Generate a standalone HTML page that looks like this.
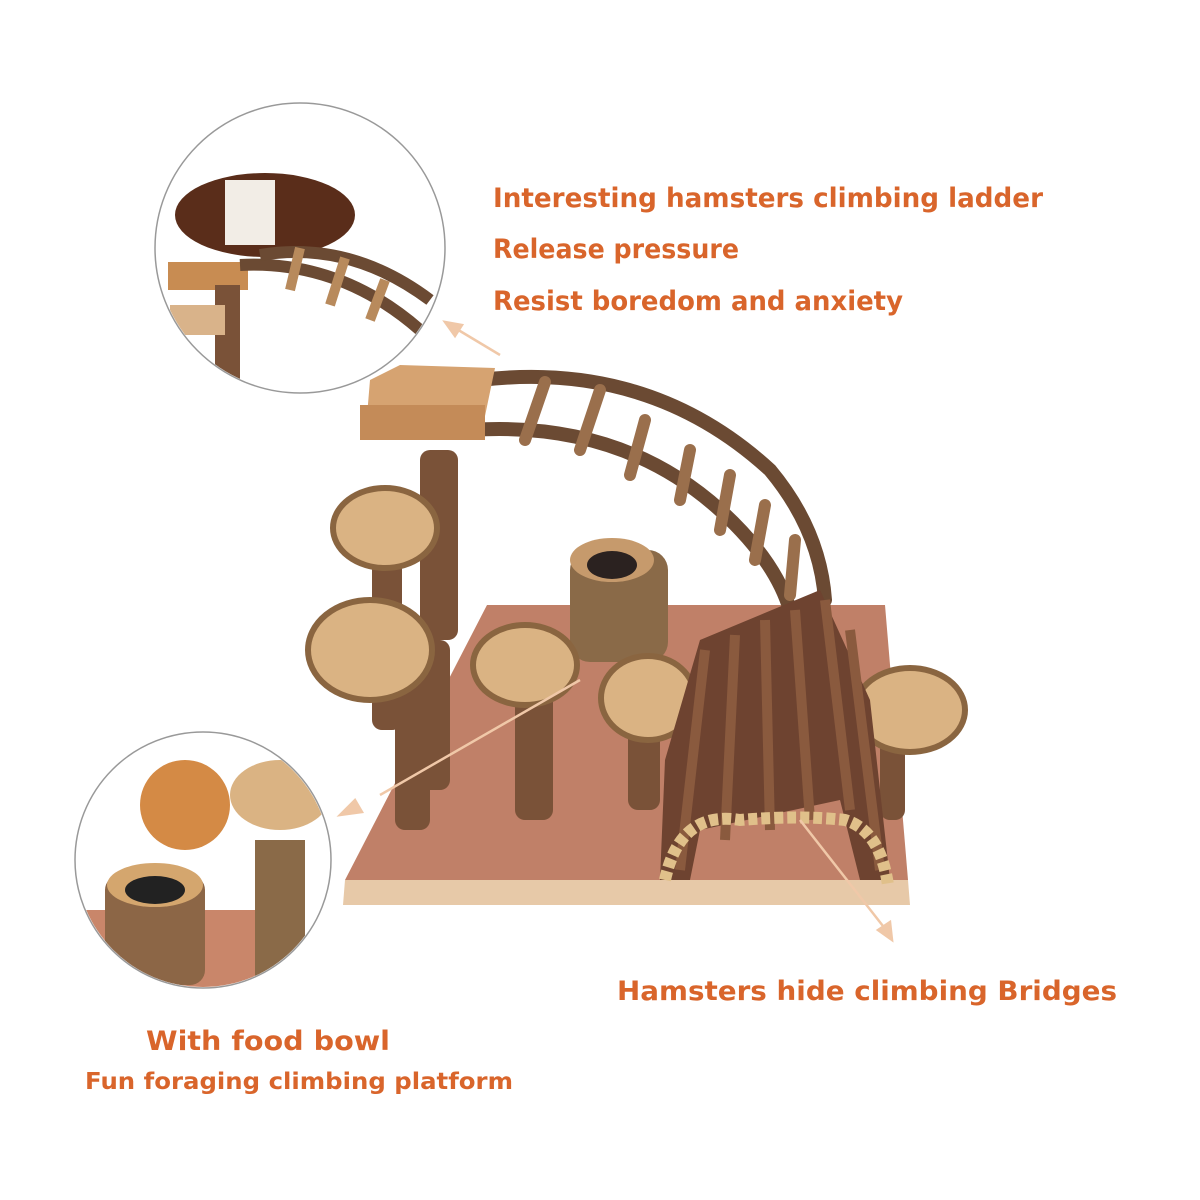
<!DOCTYPE html>
<html><head><meta charset="utf-8"><style>
html,body{margin:0;padding:0;background:#fff;}
svg{display:block}
text{font-family:"DejaVu Sans","Liberation Sans",sans-serif;font-weight:bold;fill:#d9652b}
</style></head><body>
<svg width="1200" height="1200" viewBox="0 0 1200 1200" xmlns="http://www.w3.org/2000/svg">
<rect width="1200" height="1200" fill="#fff"/>
<!-- board -->
<polygon points="487,605 885,605 908,880 345,880" fill="#c08068"/>
<polygon points="345,880 908,880 910,905 343,905" fill="#e7c9a8"/>
<!-- ladder -->
<g stroke="#6b4a33" stroke-width="14" stroke-linecap="round" fill="none">
<path d="M480,380 Q650,360 770,470 Q820,530 825,600"/>
<path d="M470,430 Q620,420 720,510 Q775,560 790,610"/>
</g>
<g stroke="#9a6f4c" stroke-width="12" stroke-linecap="round">
<line x1="545" y1="382" x2="525" y2="440"/><line x1="600" y1="390" x2="580" y2="450"/>
<line x1="645" y1="420" x2="630" y2="475"/><line x1="690" y1="450" x2="680" y2="500"/>
<line x1="730" y1="475" x2="720" y2="530"/><line x1="765" y1="505" x2="755" y2="560"/>
<line x1="795" y1="540" x2="790" y2="595"/>
</g>
<!-- posts -->
<g fill="#7a5238">
<rect x="420" y="450" width="38" height="190" rx="10"/>
<rect x="372" y="520" width="30" height="210" rx="10"/>
<rect x="395" y="640" width="35" height="190" rx="10"/>
<rect x="420" y="640" width="30" height="150" rx="10"/>
<rect x="515" y="680" width="38" height="140" rx="10"/>
<rect x="628" y="710" width="32" height="100" rx="10"/>
<rect x="880" y="720" width="25" height="100" rx="10"/>
</g>
<!-- top platform -->
<polygon points="370,380 400,365 495,368 480,440 365,440" fill="#d6a371"/>
<rect x="360" y="405" width="125" height="35" fill="#c48b58"/>
<!-- food bowl -->
<rect x="570" y="550" width="98" height="112" rx="20" fill="#8a6a48"/>
<ellipse cx="612" cy="560" rx="42" ry="22" fill="#c69a6c"/>
<ellipse cx="612" cy="565" rx="25" ry="14" fill="#2b2220"/>
<!-- stumps -->
<g fill="#dab383" stroke="#8a6540" stroke-width="6">
<ellipse cx="385" cy="528" rx="52" ry="40"/>
<ellipse cx="370" cy="650" rx="62" ry="50"/>
<ellipse cx="525" cy="665" rx="52" ry="40"/>
<ellipse cx="648" cy="698" rx="47" ry="42"/>
<ellipse cx="910" cy="710" rx="55" ry="42"/>
</g>
<!-- bridge -->
<polygon points="700,640 820,590 870,700 890,880 860,880 840,800 700,830 690,880 660,880 665,760" fill="#6e4330"/>
<g stroke="#8a5a3e" stroke-width="10">
<line x1="705" y1="650" x2="680" y2="870"/><line x1="735" y1="635" x2="725" y2="840"/>
<line x1="765" y1="620" x2="770" y2="830"/><line x1="795" y1="610" x2="810" y2="820"/>
<line x1="825" y1="600" x2="850" y2="810"/><line x1="850" y1="630" x2="880" y2="870"/>
</g>
<path d="M665,880 Q680,810 740,820 Q800,815 845,820 Q880,830 888,885" fill="none" stroke="#e0c08a" stroke-width="12" stroke-dasharray="9 4"/>
<!-- pointer lines -->
<g stroke="#f0c8a8" stroke-width="2.5" fill="#f0c8a8">
<line x1="500" y1="355" x2="445" y2="322"/><polygon points="445,322 462,325 455,336"/>
<line x1="580" y1="680" x2="380" y2="795"/><polygon points="340,815 355,800 362,812"/>
<line x1="800" y1="820" x2="890" y2="935"/><polygon points="892,940 878,930 890,922"/>
</g>
<!-- circles -->
<circle cx="300" cy="248" r="145" fill="#fff" stroke="#999" stroke-width="1.5"/>
<clipPath id="c1"><circle cx="300" cy="248" r="144"/></clipPath>
<g clip-path="url(#c1)">
<ellipse cx="265" cy="215" rx="90" ry="42" fill="#5a2d1a"/>
<rect x="225" y="180" width="50" height="65" fill="#f2ede6"/>
<rect x="168" y="262" width="80" height="28" fill="#c88c52"/>
<rect x="215" y="285" width="25" height="110" fill="#7a5238"/>
<rect x="170" y="305" width="55" height="30" fill="#d9b38a"/>
<path d="M240,265 Q340,260 420,330" stroke="#6b4a33" stroke-width="12" fill="none"/>
<path d="M260,255 Q350,240 430,300" stroke="#6b4a33" stroke-width="12" fill="none"/>
<g stroke="#b88a5c" stroke-width="10"><line x1="300" y1="248" x2="290" y2="290"/><line x1="345" y1="258" x2="330" y2="305"/><line x1="385" y1="280" x2="370" y2="320"/></g>
</g>
<circle cx="203" cy="860" r="128" fill="#fff" stroke="#999" stroke-width="1.5"/>
<clipPath id="c2"><circle cx="203" cy="860" r="127"/></clipPath>
<g clip-path="url(#c2)">
<ellipse cx="185" cy="805" rx="45" ry="45" fill="#d48a45"/>
<rect x="60" y="910" width="200" height="90" fill="#c9866a"/>
<rect x="105" y="875" width="100" height="110" rx="15" fill="#8c6646"/>
<ellipse cx="155" cy="885" rx="48" ry="22" fill="#d4a66e"/>
<ellipse cx="155" cy="890" rx="30" ry="14" fill="#222"/>
<ellipse cx="280" cy="795" rx="50" ry="35" fill="#dab383"/>
<rect x="255" y="840" width="50" height="140" fill="#8a6a48"/>
</g>
<!-- text -->
<text x="493" y="207" font-size="27" textLength="550" lengthAdjust="spacingAndGlyphs">Interesting hamsters climbing ladder</text>
<text x="493" y="258" font-size="27" textLength="246" lengthAdjust="spacingAndGlyphs">Release pressure</text>
<text x="493" y="310" font-size="27" textLength="410" lengthAdjust="spacingAndGlyphs">Resist boredom and anxiety</text>
<text x="617" y="1000" font-size="27" textLength="500" lengthAdjust="spacingAndGlyphs">Hamsters hide climbing Bridges</text>
<text x="146" y="1050" font-size="27" textLength="244" lengthAdjust="spacingAndGlyphs">With food bowl</text>
<text x="85" y="1089" font-size="23" textLength="428" lengthAdjust="spacingAndGlyphs">Fun foraging climbing platform</text>
</svg>
</body></html>
